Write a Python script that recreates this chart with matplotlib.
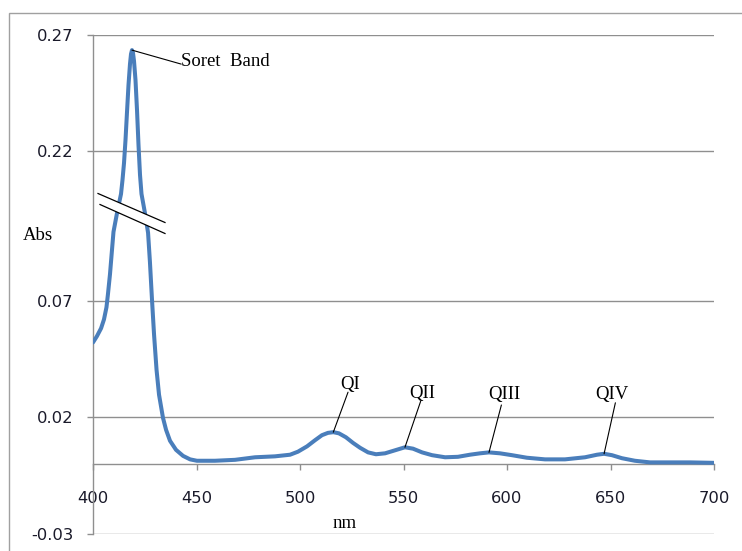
import numpy as np
import matplotlib
matplotlib.use("Agg")
import matplotlib.pyplot as plt
from matplotlib.patches import Rectangle

# ---------------- data ----------------
wavelength = [400.0, 401.9, 403.9, 405.3, 406.5, 407.2, 408.2, 409.2, 409.9, 411.6,
              413.53, 414.25, 414.98, 415.70, 416.43, 417.15, 417.87, 418.36, 418.84, 419.32,
              419.81, 420.53, 421.26, 421.98, 422.71, 423.43, 425.1, 426.6, 427.5, 428.5,
              429.5, 430.7, 431.9, 433.8, 435.3, 437.2, 440.1, 443.5, 446.9, 450.2,
              458.9, 468.6, 478.3, 487.9, 495.2, 499.0, 503.4, 507.2, 510.6, 513.5,
              516.1, 518.8, 522.2, 525.6, 529.0, 532.9, 536.7, 541.1, 545.9, 550.7,
              554.6, 559.0, 563.8, 570.1, 576.3, 582.1, 587.0, 591.3, 596.6, 602.4,
              609.6, 618.4, 628.0, 637.7, 643.5, 646.9, 650.7, 655.5, 661.8, 669.1,
              678.7, 688.4, 700.0]
absorbance = [0.0522, 0.0549, 0.0583, 0.0621, 0.0673, 0.0728, 0.0815, 0.0923, 0.0998, 0.150,
              0.2016, 0.2076, 0.2149, 0.2248, 0.2369, 0.2485, 0.2575, 0.2618, 0.2635, 0.2623,
              0.2588, 0.2506, 0.2377, 0.2227, 0.2098, 0.2016, 0.150, 0.0994, 0.0869, 0.0706,
              0.0555, 0.0404, 0.0297, 0.0198, 0.0146, 0.0099, 0.0060, 0.0034, 0.0019, 0.0013,
              0.0013, 0.0017, 0.0028, 0.0032, 0.0039, 0.0052, 0.0075, 0.0101, 0.0123, 0.0133,
              0.0136, 0.0131, 0.0114, 0.0090, 0.0069, 0.0049, 0.0041, 0.0045, 0.0058, 0.0071,
              0.0065, 0.0049, 0.0037, 0.0028, 0.0030, 0.0039, 0.0045, 0.0049, 0.0045, 0.0037,
              0.0026, 0.0019, 0.0019, 0.0028, 0.0039, 0.0043, 0.0037, 0.0024, 0.0013, 0.0006,
              0.0006, 0.0006, 0.0004]

y_ticks = [-0.03, 0.02, 0.07, 0.22, 0.27]
y_tick_labels = ["-0.03", "0.02", "0.07", "0.22", "0.27"]
x_ticks = [400, 450, 500, 550, 600, 650, 700]
x_tick_labels = ["400", "450", "500", "550", "600", "650", "700"]

band_labels = ["Soret  Band", "QI", "QII", "QIII", "QIV"]
band_nm = [418.8, 516.1, 550.7, 591.3, 646.9]
band_abs = [0.2635, 0.0136, 0.0071, 0.0049, 0.0043]

# ---------------- broken-axis scale ----------------
B1, B2, D = 0.10, 0.2015, 0.016
SHIFT = B2 - B1 - D

def fwd(y):
    y = np.asarray(y, dtype=float)
    return np.where(y <= B1, y,
                    np.where(y >= B2, y - SHIFT, B1 + (y - B1) * D / (B2 - B1)))

def inv(d):
    d = np.asarray(d, dtype=float)
    return np.where(d <= B1, d,
                    np.where(d >= B1 + D, d + SHIFT, B1 + (d - B1) * (B2 - B1) / D))

# ---------------- figure ----------------
W, H = 742, 551
fig = plt.figure(figsize=(W / 100, H / 100), dpi=100)
ax = fig.add_axes([93 / W, 1 - 533.5 / H, (714 - 93) / W, (533.5 - 35) / H])
ax.set_yscale("function", functions=(fwd, inv))

GRID = "#8f8f8f"
BLUE = "#4a7ebb"
TXT = "#1a1a2a"

ax.plot(wavelength, absorbance, color=BLUE, lw=2.9, solid_capstyle="round",
        solid_joinstyle="round", zorder=3)

ax.set_xlim(400, 700)
ax.set_ylim(-0.03, 0.27)

ax.set_yticks(y_ticks)
ax.set_yticklabels(y_tick_labels)
ax.set_xticks(x_ticks)
ax.set_xticklabels(x_tick_labels)
ax.minorticks_off()

for s in ["top", "right"]:
    ax.spines[s].set_visible(False)
ax.spines["bottom"].set_position(("data", 0))
for s in ["left", "bottom"]:
    ax.spines[s].set_color(GRID)
    ax.spines[s].set_linewidth(1.0)

ax.yaxis.grid(True, color=GRID, lw=1.0)
ax.set_axisbelow(True)

ax.tick_params(axis="y", direction="out", length=4.3, width=1.0, color=GRID,
               pad=10, labelsize=11.8, labelcolor=TXT)
ax.tick_params(axis="x", direction="out", length=4.3, width=1.0, color=GRID,
               pad=15.5, labelsize=11.8, labelcolor=TXT)
for lab in ax.get_xticklabels() + ax.get_yticklabels():
    lab.set_fontfamily("DejaVu Sans")

serif = "Liberation Serif"
ax.set_ylabel("Abs", rotation=0, ha="left", va="baseline", fontsize=13.5,
              fontfamily=serif)
ax.yaxis.set_label_coords(-0.1127, 0.5888)
ax.set_xlabel("nm", ha="center", va="baseline", fontsize=13.5, fontfamily=serif)
ax.xaxis.set_label_coords(0.4058, 0.0104)

# ---------------- annotations ----------------
PX = 0.72  # points per pixel
line_off = [(49.3, -14), (14.7, 40), (15.7, 46), (12.4, 47.4), (11.3, 51)]
text_off = [(49.5, -16), (17, 43.4), (17.8, 49.3), (14.9, 53.4), (8.1, 55)]
text_ha = ["left", "center", "center", "center", "center"]
for lab, x, y, lo, to, ha in zip(band_labels, band_nm, band_abs, line_off, text_off, text_ha):
    ax.annotate("", xy=(x, y), xytext=(lo[0] * PX, lo[1] * PX),
                textcoords="offset points",
                arrowprops=dict(arrowstyle="-", color="black", lw=0.8,
                                shrinkA=0, shrinkB=0), zorder=5)
    ax.annotate(lab, xy=(x, y), xytext=(to[0] * PX, to[1] * PX),
                textcoords="offset points", ha=ha, va="baseline",
                fontsize=13.5, fontfamily=serif, color="black", zorder=5)

# ---------------- break marks ----------------
def axc(px, py):
    return ((px - 93) / 621, (533.5 - py) / 498.5)

p1a, p1b = axc(98, 193.5), axc(165, 222.5)
p2a, p2b = axc(100, 204.5), axc(165, 233.5)
ax.fill([p1a[0], p1b[0], p2b[0], p2a[0]], [p1a[1], p1b[1], p2b[1], p2a[1]],
        transform=ax.transAxes, color="white", lw=0, zorder=6, clip_on=False)
for a, b in [(p1a, p1b), (p2a, p2b)]:
    ax.plot([a[0], b[0]], [a[1], b[1]], transform=ax.transAxes, color="black",
            lw=0.9, zorder=7, clip_on=False)

# ---------------- chart border ----------------
fig.patches.append(Rectangle((9 / W, -0.1), 2.0, (H - 13) / H + 0.1,
                             transform=fig.transFigure, fill=False,
                             edgecolor="#a0a0a0", lw=1.0))

fig.savefig("out.png", dpi=100)
